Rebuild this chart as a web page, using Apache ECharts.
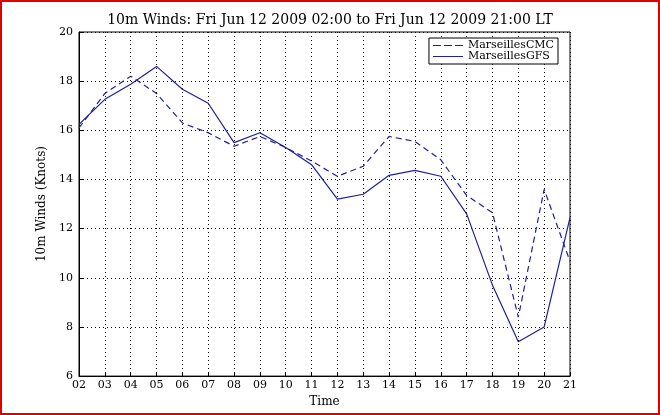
<!DOCTYPE html>
<html><head><meta charset="utf-8">
<script src="https://cdn.jsdelivr.net/npm/echarts@6/dist/echarts.min.js"></script>
<style>html,body{margin:0;padding:0;background:#fff}#c{width:656px;height:411px;border:2px solid #e00000}</style>
</head><body><div id="c"></div>
<script>
const categories=['02','03','04','05','06','07','08','09','10','11','12','13','14','15','16','17','18','19','20','21'];
const cmc=[16.1,17.5,18.2,17.5,16.3,15.9,15.35,15.75,15.3,14.75,14.13,14.54,15.75,15.55,14.8,13.35,12.65,8.4,13.6,10.67];
const gfs=[16.24,17.26,17.87,18.6,17.67,17.1,15.5,15.9,15.3,14.6,13.2,13.4,14.17,14.37,14.13,12.6,9.7,7.4,8.0,12.45];
const font='DejaVu Serif';
const ch=echarts.init(document.getElementById('c'));
const dotted={show:true,lineStyle:{color:'#000',type:[1,3],width:1}};
ch.setOption({
animation:false,
title:{text:'10m Winds: Fri Jun 12 2009 02:00 to Fri Jun 12 2009 21:00 LT',left:'center',top:6,textStyle:{fontFamily:font,fontSize:14,fontWeight:'normal',color:'#000'}},
legend:{right:100,top:36,orient:'vertical',itemGap:0,itemWidth:30,itemHeight:10,backgroundColor:'#fff',borderColor:'#000',borderWidth:1,padding:[2,4],borderRadius:0,textStyle:{fontFamily:font,fontSize:11,color:'#000'},
 data:[{name:'MarseillesCMC',icon:'path://M0,5L8,5L8,6L0,6ZM11,5L19,5L19,6L11,6ZM22,5L30,5L30,6L22,6Z'},{name:'MarseillesGFS',icon:'path://M0,5L30,5L30,6L0,6Z'}]},
grid:{left:77,right:88,top:30,bottom:36},
xAxis:{type:'category',data:categories,boundaryGap:false,name:'Time',nameLocation:'middle',nameGap:16,nameTextStyle:{fontFamily:font,fontSize:12,color:'#000'},
 axisLine:{lineStyle:{color:'#000'}},axisTick:{inside:true,length:4,lineStyle:{color:'#000'}},axisLabel:{fontFamily:font,fontSize:11,color:'#000',margin:4},splitLine:dotted},
yAxis:{type:'value',min:6,max:20,interval:2,name:'10m Winds (Knots)',nameLocation:'middle',nameGap:28,nameTextStyle:{fontFamily:font,fontSize:12,color:'#000'},
 axisLine:{show:true,lineStyle:{color:'#000'}},axisTick:{show:true,inside:true,length:4,lineStyle:{color:'#000'}},axisLabel:{fontFamily:font,fontSize:11,color:'#000',margin:6},splitLine:dotted},
series:[
{name:'MarseillesCMC',type:'line',data:cmc,symbol:'none',lineStyle:{color:'#1f1f9f',width:1.2,type:[6,4]},itemStyle:{color:'#1f1f9f'}},
{name:'MarseillesGFS',type:'line',data:gfs,symbol:'none',lineStyle:{color:'#1f1f9f',width:1.2},itemStyle:{color:'#1f1f9f'}}
]});
const g=ch.getModel().getComponent('grid').coordinateSystem.getRect();
ch.setOption({graphic:[{type:'rect',shape:{x:g.x,y:g.y,width:g.width,height:g.height},style:{fill:'none',stroke:'#000',lineWidth:1},silent:true}]});
</script></body></html>
